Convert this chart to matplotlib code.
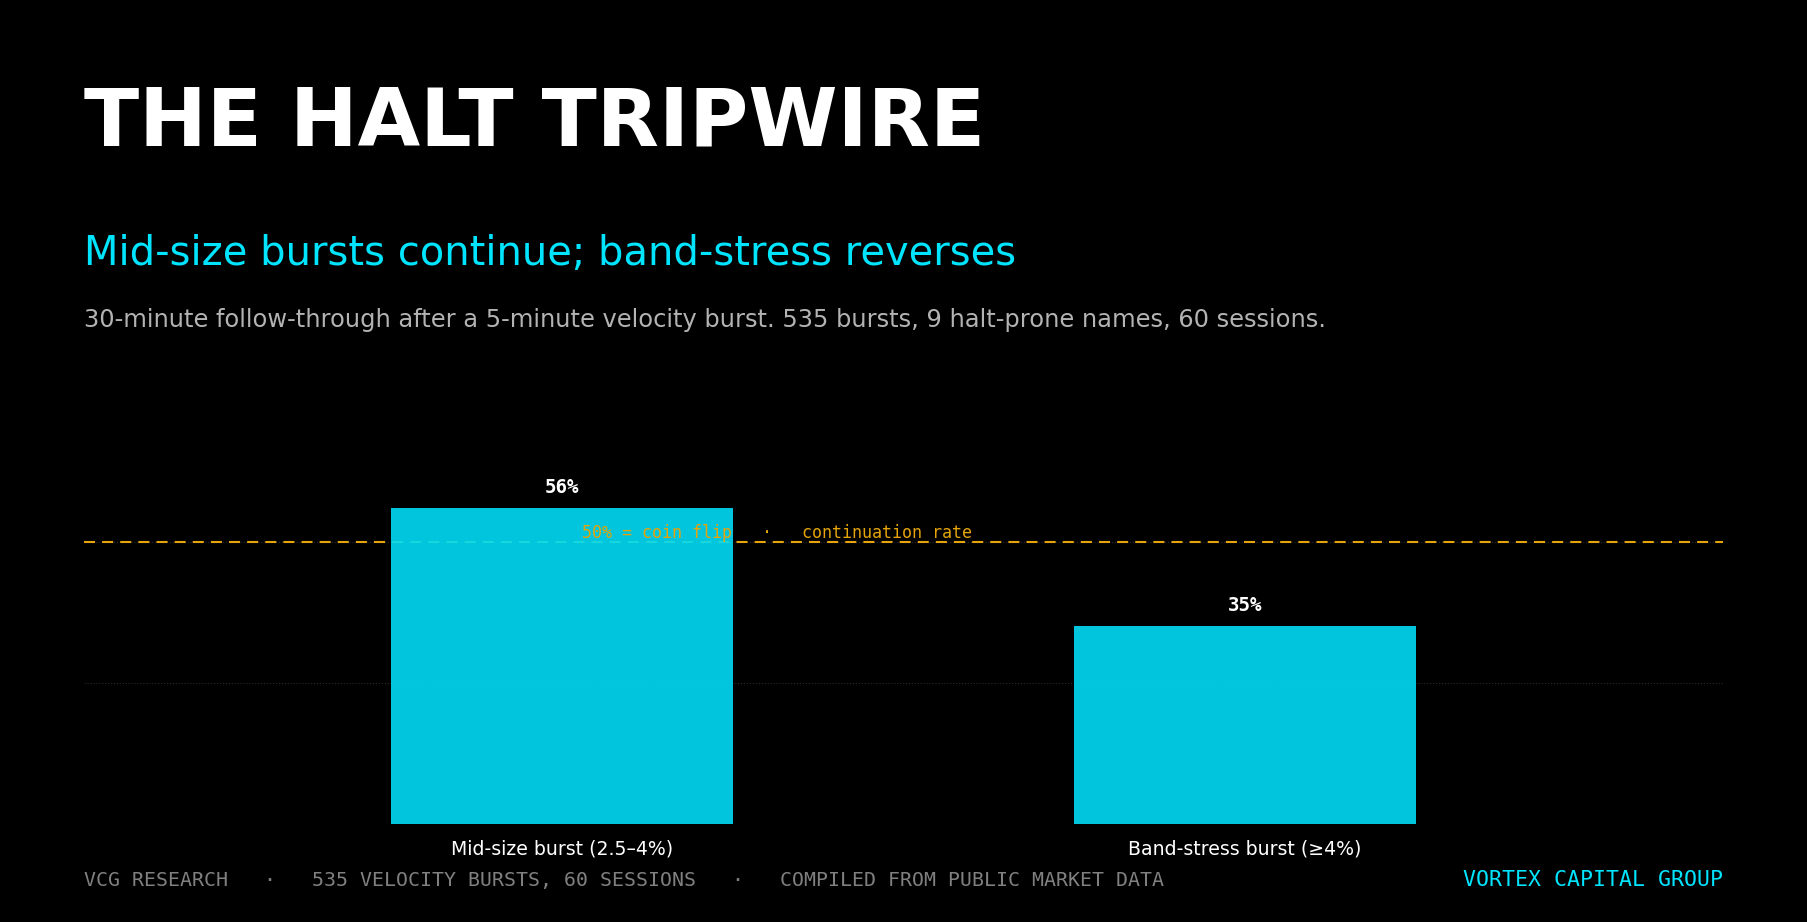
import matplotlib
matplotlib.use("Agg")
import matplotlib.pyplot as plt
import matplotlib.transforms as mtransforms

# data
categories = ["Mid-size burst (2.5\u20134%)", "Band-stress burst (\u22654%)"]
continuation = [56, 35]
value_labels = ["56%", "35%"]
coin_flip = 50

BG = "#000000"
BAR = "#00dcf5"
CYAN = "#00e5ff"
ORANGE = "#e5a50a"

fig = plt.figure(figsize=(18.07, 9.22), dpi=100, facecolor=BG)
ax = fig.add_axes([0.0465, 0.1063, 0.907, 0.4288], facecolor=BG)

x = list(range(len(categories)))
ax.bar(x, continuation, width=0.5, color=BAR, alpha=0.9, zorder=3)

# coin flip reference line (behind the bars)
ax.axhline(coin_flip, color=ORANGE, lw=1.5, dashes=(5.3, 3.4), zorder=2)
tr = mtransforms.blended_transform_factory(ax.transAxes, ax.transData)
ax.text(0.304, coin_flip, "50% = coin flip   \u00b7   continuation rate",
        transform=tr, ha="left", va="bottom", color=ORANGE,
        family="DejaVu Sans Mono", fontsize=12, zorder=4)

for xi, v, lab in zip(x, continuation, value_labels):
    ax.annotate(lab, (xi, v), xytext=(0, 8), textcoords="offset points",
                ha="center", va="bottom", color="white", fontsize=13.8,
                fontweight="bold", family="DejaVu Sans Mono")

ax.set_xlim(-0.7, 1.7)
ax.set_ylim(0, 70)
ax.set_yticks([25, 50])
ax.yaxis.grid(True, color="#2a2a2a", lw=0.8, ls=":", zorder=0)
ax.set_axisbelow(True)
ax.tick_params(axis="y", left=False, labelleft=False)
ax.set_xticks(x)
ax.set_xticklabels(categories, color="white", fontsize=13.6)
ax.tick_params(axis="x", bottom=False, pad=8)
for s in ax.spines.values():
    s.set_visible(False)

fig.text(0.0465, 0.8427, "THE HALT TRIPWIRE", color="white", fontsize=58.2,
         fontweight="bold", va="baseline", ha="left")
fig.text(0.0465, 0.7126, "Mid-size bursts continue; band-stress reverses",
         color=CYAN, fontsize=28.8, va="baseline", ha="left")
fig.text(0.0465, 0.6453,
         "30-minute follow-through after a 5-minute velocity burst. 535 bursts, 9 halt-prone names, 60 sessions.",
         color="#b3b3b3", fontsize=17.4, va="baseline", ha="left")

fig.text(0.0465, 0.039,
         "VCG RESEARCH   \u00b7   535 VELOCITY BURSTS, 60 SESSIONS   \u00b7   COMPILED FROM PUBLIC MARKET DATA",
         color="#808080", fontsize=14.3, family="DejaVu Sans Mono",
         va="baseline", ha="left")
fig.text(0.9535, 0.039, "VORTEX CAPITAL GROUP", color=CYAN, fontsize=15.5,
         family="DejaVu Sans Mono", va="baseline", ha="right")

fig.savefig("out.png", dpi=100, facecolor=BG)
